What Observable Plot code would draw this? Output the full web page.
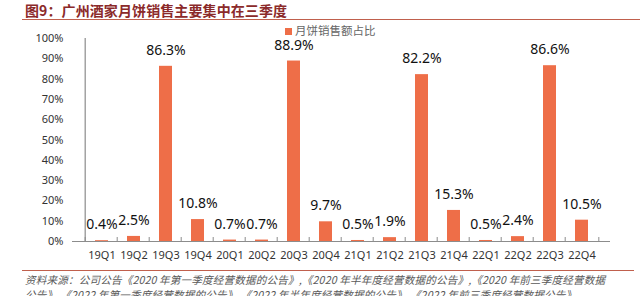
<!DOCTYPE html>
<html><head><meta charset="utf-8">
<script src="https://cdn.jsdelivr.net/npm/d3@7"></script>
<script src="https://cdn.jsdelivr.net/npm/@observablehq/plot@0.6"></script>
<style>
html,body{margin:0;padding:0;background:#fff;width:642px;height:296px;overflow:hidden;font-family:"Noto Sans CJK SC","Noto Sans",sans-serif;}
#wrap{position:relative;width:642px;height:296px;}
#title{position:absolute;left:25px;top:1px;font-size:14px;font-weight:bold;color:#8B2A2A;line-height:18px;white-space:nowrap;letter-spacing:0.1px;}
#tline{position:absolute;left:22px;top:19px;width:618px;height:0;border-top:1.5px solid #C0604D;}
#chart{position:absolute;left:0;top:20px;}
#legend{position:absolute;left:285px;top:24px;font-size:11.5px;color:#666;white-space:nowrap;line-height:13px;}
#legend span.sw{display:inline-block;width:7px;height:7px;background:#EE6E48;margin-right:3px;vertical-align:0px;}
#cline{position:absolute;left:22px;top:270px;width:612px;height:0;border-top:1.5px solid #C0604D;}
.cap{position:absolute;left:25px;font-size:10.6px;font-style:italic;color:#595959;white-space:nowrap;line-height:12px;letter-spacing:0.15px;}
</style></head>
<body><div id="wrap">
<div id="title">图9：广州酒家月饼销售主要集中在三季度</div>
<div id="tline"></div>
<div id="chart"></div>
<div id="legend"><span class="sw"></span>月饼销售额占比</div>
<div id="cline"></div>
<div class="cap" style="top:274px">资料来源：公司公告《2020 年第一季度经营数据的公告》,《2020 年半年度经营数据的公告》,《2020 年前三季度经营数据</div>
<div class="cap" style="top:289px">公告》,《2022 年第一季度经营数据的公告》,《2022 年半年度经营数据的公告》,《2022 年前三季度经营数据公告》</div>
</div>
<script>
const quarters = ["19Q1","19Q2","19Q3","19Q4","20Q1","20Q2","20Q3","20Q4","21Q1","21Q2","21Q3","21Q4","22Q1","22Q2","22Q3","22Q4"];
const shares = [0.4,2.5,86.3,10.8,0.7,0.7,88.9,9.7,0.5,1.9,82.2,15.3,0.5,2.4,86.6,10.5];
const yTicks = [0,10,20,30,40,50,60,70,80,90,100];

const data = quarters.map((q,i)=>({q, v: shares[i]}));
const W = 642, ML = 72, MR = 32;
const half = (W - ML - MR) / quarters.length / 2;
const axisColor = "#8c8c8c";

const chart = Plot.plot({
  width: W, height: 250,
  marginLeft: ML, marginRight: MR, marginTop: 18, marginBottom: 29,
  style: {fontFamily: "'Noto Sans','DejaVu Sans',sans-serif", color: "#333", background: "transparent"},
  x: {domain: quarters, padding: 0.6, label: null},
  y: {domain: [0,100], label: null},
  marks: [
    Plot.barY(data, {x: "q", y: "v", fill: "#EE6E48"}),
    Plot.ruleY([0], {stroke: axisColor, strokeWidth: 1.2}),
    Plot.ruleX([quarters[0]], {y1: 0, y2: 100, dx: -half, stroke: axisColor, strokeWidth: 1.2}),
    Plot.ruleX(quarters, {y1: 0, y2: 0, insetTop: -4, dx: -half, stroke: axisColor}),
    Plot.ruleX([quarters[quarters.length-1]], {y1: 0, y2: 0, insetTop: -4, dx: half, stroke: axisColor}),
    Plot.axisY({ticks: yTicks, tickSize: 0, tickPadding: 9, tickFormat: d => d + "%", fontSize: 11, fill: "#333"}),
    Plot.axisX({tickSize: 0, tickPadding: 10, fontSize: 11, fill: "#333"}),
    Plot.text(data, {x: "q", y: "v", text: d => d.v.toFixed(1) + "%", dy: -16, fontSize: 14, fill: "#111"})
  ]
});
document.getElementById("chart").appendChild(chart);
</script>
</body></html>
